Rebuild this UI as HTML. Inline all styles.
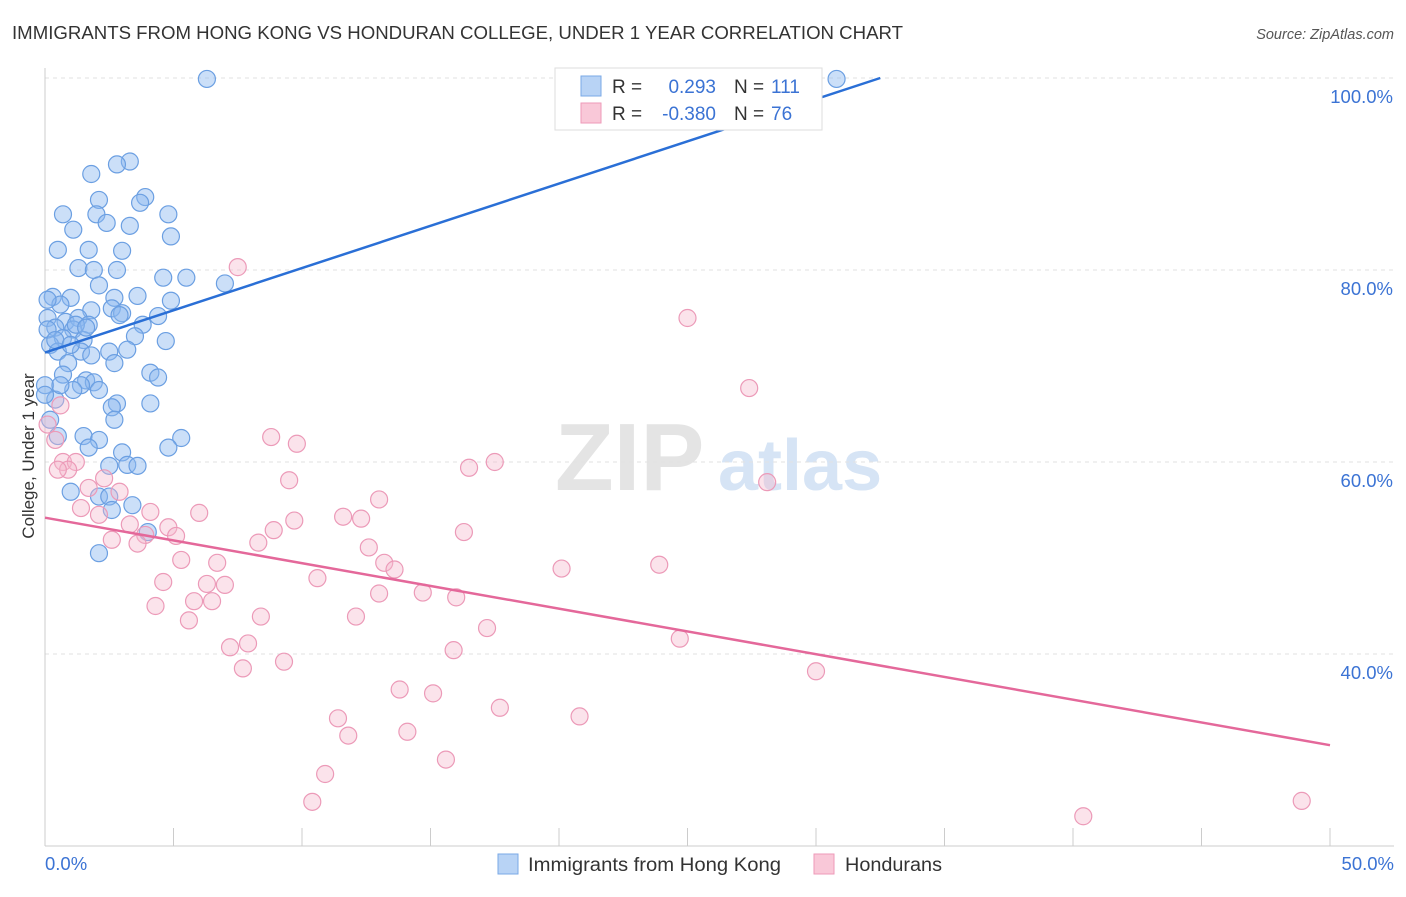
<!DOCTYPE html>
<html><head><meta charset="utf-8">
<style>
body{margin:0;background:#fff;font-family:"Liberation Sans",sans-serif;}
svg text{font-family:"Liberation Sans",sans-serif;}
</style></head>
<body>
<svg id="chart" width="1406" height="892" xmlns="http://www.w3.org/2000/svg">
<text x="12" y="39" font-size="18" fill="#333" textLength="891" lengthAdjust="spacingAndGlyphs">IMMIGRANTS FROM HONG KONG VS HONDURAN COLLEGE, UNDER 1 YEAR CORRELATION CHART</text>
<text x="1394" y="39" font-size="14.5" fill="#555" text-anchor="end" font-style="italic">Source: ZipAtlas.com</text>
<text x="555" y="490" font-size="96" fill="#e4e4e4" font-family="Liberation Serif" font-weight="bold">ZIP</text>
<text x="718" y="490" font-size="72" fill="#d6e4f5" font-weight="bold">atlas</text>
<g id="grid"></g>
<g id="axes"></g>
<g id="blue-pts"></g>
<g id="pink-pts"></g>
<g id="lines"></g>
<text transform="translate(34,456) rotate(-90)" font-size="17" fill="#333" text-anchor="middle">College, Under 1 year</text>
<g>
<rect x="555" y="68" width="267" height="62" fill="#fff" stroke="#ddd"/>
<rect x="581" y="76" width="20" height="20" fill="#b8d3f5" stroke="#7aa8e6"/>
<rect x="581" y="103" width="20" height="20" fill="#f9c8d8" stroke="#ee9ab8"/>
<text x="612" y="93" font-size="19" fill="#333">R = </text><text x="716" y="93" font-size="19" fill="#3b73d4" text-anchor="end">0.293</text>
<text x="734" y="93" font-size="19" fill="#333">N = </text><text x="771" y="93" font-size="19" fill="#3b73d4">111</text>
<text x="612" y="120" font-size="19" fill="#333">R = </text><text x="716" y="120" font-size="19" fill="#3b73d4" text-anchor="end">-0.380</text>
<text x="734" y="120" font-size="19" fill="#333">N = </text><text x="771" y="120" font-size="19" fill="#3b73d4">76</text>
</g>
<g>
<rect x="498" y="854" width="20" height="20" fill="#b8d3f5" stroke="#7aa8e6"/>
<text x="528" y="871" font-size="19" fill="#333" textLength="253" lengthAdjust="spacingAndGlyphs">Immigrants from Hong Kong</text>
<rect x="814" y="854" width="20" height="20" fill="#f9c8d8" stroke="#ee9ab8"/>
<text x="845" y="871" font-size="19" fill="#333" textLength="97" lengthAdjust="spacingAndGlyphs">Hondurans</text>
</g>
</svg>
<script>
const blueX=[6.3,30.8,3.3,2.8,1.8,3.9,2.1,3.7,0.7,2.0,4.8,2.4,1.1,3.3,4.9,0.5,1.7,3.0,1.3,1.9,2.8,4.6,5.5,7.0,2.1,0.3,1.0,2.7,3.6,4.9,0.6,1.8,2.6,3.0,4.4,0.1,0.8,1.3,1.7,0.4,1.1,3.8,0.7,1.5,3.5,4.7,0.2,0.5,1.4,2.5,3.2,2.7,0.9,4.1,0.7,1.6,1.9,4.4,1.4,2.1,1.1,0.4,2.8,2.6,4.1,2.7,1.5,0.5,2.1,5.3,1.7,4.8,3.0,3.2,3.6,2.5,1.0,2.1,2.5,3.4,2.6,4.0,2.1,0.1,0.1,0.4,1.2,1.8,0.0,0.2,0.0,0.6,2.9,1.6,1.0];
const blueY=[99.9,99.9,91.3,91.0,90.0,87.6,87.3,87.0,85.8,85.8,85.8,84.9,84.2,84.6,83.5,82.1,82.1,82.0,80.2,80.0,80.0,79.2,79.2,78.6,78.4,77.2,77.1,77.1,77.3,76.8,76.4,75.8,76.0,75.5,75.2,75.0,74.6,75.0,74.3,74.0,73.8,74.3,72.9,72.7,73.1,72.6,72.2,71.5,71.5,71.5,71.7,70.3,70.3,69.3,69.1,68.5,68.3,68.8,68.0,67.5,67.5,66.5,66.1,65.7,66.1,64.4,62.7,62.7,62.3,62.5,61.5,61.5,61.0,59.7,59.6,59.6,56.9,56.4,56.4,55.5,55.0,52.7,50.5,76.9,73.8,72.7,74.3,71.1,68.0,64.4,67.0,68.0,75.3,74.0,72.2];
const pinkX=[7.5,25.0,27.4,0.6,0.4,8.8,9.8,0.7,1.2,0.9,17.5,16.5,28.1,9.5,1.7,2.9,2.3,13.0,1.4,2.1,4.1,6.0,11.6,12.3,9.7,3.3,4.8,8.9,3.9,5.1,16.3,2.6,3.6,8.3,12.6,5.3,6.7,13.2,13.6,20.1,23.9,10.6,4.6,6.3,7.0,13.0,14.7,16.0,5.8,6.5,4.3,5.6,8.4,12.1,17.2,24.7,7.2,7.9,15.9,9.3,7.7,30.0,13.8,15.1,17.7,20.8,11.4,11.8,14.1,15.6,10.9,10.4,40.4,48.9,0.1,0.5];
const pinkY=[80.3,75.0,67.7,65.9,62.3,62.6,61.9,60.0,60.0,59.2,60.0,59.4,57.9,58.1,57.3,56.9,58.3,56.1,55.2,54.5,54.8,54.7,54.3,54.1,53.9,53.5,53.2,52.9,52.4,52.3,52.7,51.9,51.5,51.6,51.1,49.8,49.5,49.5,48.8,48.9,49.3,47.9,47.5,47.3,47.2,46.3,46.4,45.9,45.5,45.5,45.0,43.5,43.9,43.9,42.7,41.6,40.7,41.1,40.4,39.2,38.5,38.2,36.3,35.9,34.4,33.5,33.3,31.5,31.9,29.0,27.5,24.6,23.1,24.7,63.9,59.2];
const blueTrend=[[0,71.4],[32.5,100]];
const pinkTrend=[[0,54.2],[50,30.5]];
const yTicks=[100,80,60,40];
const xTickVals=[0,5,10,15,20,25,30,35,40,45,50];

const NS='http://www.w3.org/2000/svg';
const X0=45,X1=1330,YTOP=78,YBOT=846;
const sx=v=>X0+(v/50)*(X1-X0);
const sy=v=>YTOP+(100-v)/80*(YBOT-YTOP);
function mk(tag,attrs,parent){const e=document.createElementNS(NS,tag);for(const k in attrs)e.setAttribute(k,attrs[k]);parent.appendChild(e);return e;}
const grid=document.getElementById('grid'),axes=document.getElementById('axes');
yTicks.forEach(t=>{
 const l=mk('line',{x1:X0,x2:1394,y1:sy(t),y2:sy(t),stroke:'#e2e2e2','stroke-dasharray':'4,4'},grid);
 
 
 const tx=mk('text',{x:1393,y:sy(t)+25,'font-size':18.5,fill:'#3b73d4','text-anchor':'end'},axes);
 tx.textContent=t.toFixed(1)+'%';
 
 
});
const ax=mk('line',{x1:X0,x2:1394,y1:YBOT,y2:YBOT,stroke:'#ccc'},axes);


const ay=mk('line',{x1:X0,x2:X0,y1:68,y2:YBOT,stroke:'#ccc'},axes);


xTickVals.forEach(t=>{
 const l=mk('line',{x1:sx(t),x2:sx(t),y1:828,y2:YBOT,stroke:'#ccc'},axes);
 
 
});
const xl=mk('text',{x:45,y:870,'font-size':18.5,fill:'#3b73d4'},axes);xl.textContent='0.0%';


const xr=mk('text',{x:1394,y:870,'font-size':18.5,fill:'#3b73d4','text-anchor':'end'},axes);xr.textContent='50.0%';


const bg=document.getElementById('blue-pts');
blueX.forEach((x,i)=>{const c=mk('circle',{cx:sx(x),cy:sy(blueY[i]),r:8.5,fill:'rgba(140,185,240,0.45)',stroke:'#6b9fe2','stroke-width':1.2},bg);
 
 });
const pg=document.getElementById('pink-pts');
pinkX.forEach((x,i)=>{const c=mk('circle',{cx:sx(x),cy:sy(pinkY[i]),r:8.5,fill:'rgba(246,185,205,0.4)',stroke:'#ec9ab8','stroke-width':1.2},pg);
 
 });
const lg=document.getElementById('lines');
const bl=mk('line',{x1:sx(blueTrend[0][0]),y1:sy(blueTrend[0][1]),x2:sx(blueTrend[1][0]),y2:sy(blueTrend[1][1]),stroke:'#2a6fd6','stroke-width':2.5},lg);


const pl=mk('line',{x1:sx(pinkTrend[0][0]),y1:sy(pinkTrend[0][1]),x2:sx(pinkTrend[1][0]),y2:sy(pinkTrend[1][1]),stroke:'#e4689a','stroke-width':2.5},lg);


</script>
</body></html>
